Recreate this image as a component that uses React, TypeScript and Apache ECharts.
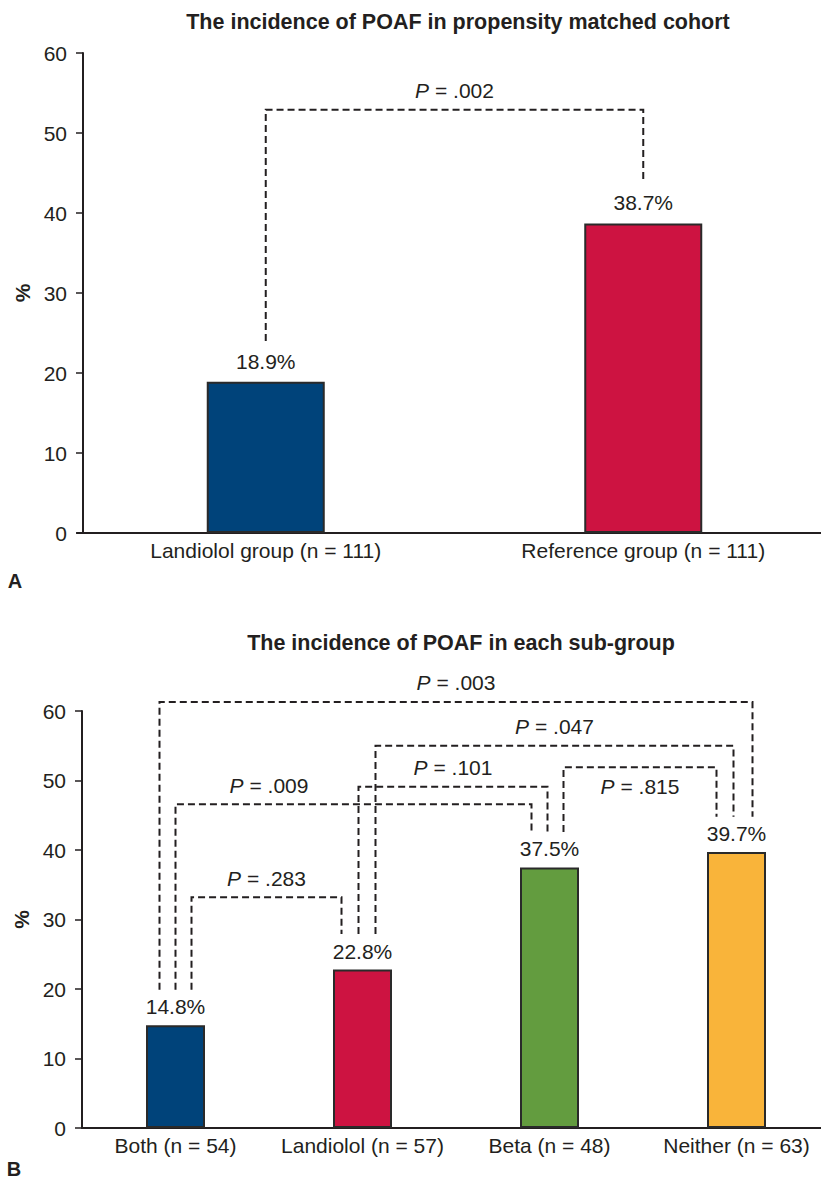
import React, { useEffect, useRef } from "react";
import * as echarts from "echarts";

// ---------- data ----------
const topCategories = ["Landiolol group (n = 111)", "Reference group (n = 111)"];
const topValues = [18.9, 38.7];
const topColors = ["#00437a", "#cd1341"];

const bottomCategories = ["Both (n = 54)", "Landiolol (n = 57)", "Beta (n = 48)", "Neither (n = 63)"];
const bottomValues = [14.8, 22.8, 37.5, 39.7];
const bottomColors = ["#00437a", "#cd1341", "#639c3f", "#f9b43a"];

const yMin = 0;
const yMax = 60;
const yInterval = 10;

// significance brackets: categories compared, bracket height (in %), p value
const topBrackets = [{ from: 0, to: 1, height: 52.9, p: ".002" }];
const bottomBrackets = [
  { from: 0, to: 3, height: 61.3, p: ".003" },
  { from: 1, to: 3, height: 55.0, p: ".047" },
  { from: 2, to: 3, height: 51.9, p: ".815" },
  { from: 1, to: 2, height: 49.1, p: ".101" },
  { from: 0, to: 2, height: 46.6, p: ".009" },
  { from: 0, to: 1, height: 33.2, p: ".283" },
];

// ---------- layout / style ----------
const FONT = "'Liberation Sans', Arial, Helvetica, sans-serif";
const INK = "#231f20";
const BRACKET_GAP = 5.1; // bracket leg ends this many % above bar
const topBracketLayout = [{ fromDx: 0, toDx: 0, below: false, labelBetween: null as null | number[] }];
const bottomBracketLayout = [
  { fromDx: -16, toDx: 16, below: false, labelBetween: null as null | number[] },
  { fromDx: 13, toDx: -3, below: false, labelBetween: null },
  { fromDx: 14, toDx: -20, below: true, labelBetween: null },
  { fromDx: -4, toDx: -2, below: false, labelBetween: null },
  { fromDx: 0, toDx: -18, below: false, labelBetween: [0, 1] },
  { fromDx: 16, toDx: -21, below: false, labelBetween: null },
];

function bracketSeries(
  brackets: typeof bottomBrackets,
  layout: typeof bottomBracketLayout,
  values: number[],
  axisIndex: number
) {
  return {
    type: "custom",
    coordinateSystem: "cartesian2d",
    xAxisIndex: axisIndex,
    yAxisIndex: axisIndex,
    clip: false,
    silent: true,
    z: 5,
    data: brackets.map((b) => [b.from, b.height]),
    renderItem: (params: any, api: any) => {
      const b = brackets[params.dataIndex];
      const L = layout[params.dataIndex];
      const x1 = api.coord([b.from, 0])[0] + L.fromDx;
      const x2 = api.coord([b.to, 0])[0] + L.toDx;
      const yTop = api.coord([b.from, b.height])[1];
      const y1 = api.coord([b.from, values[b.from] + BRACKET_GAP])[1];
      const y2 = api.coord([b.to, values[b.to] + BRACKET_GAP])[1];
      let lx = (x1 + x2) / 2;
      if (L.labelBetween) {
        lx = (api.coord([L.labelBetween[0], 0])[0] + api.coord([L.labelBetween[1], 0])[0]) / 2;
      }
      const ly = L.below ? yTop + 19 : yTop - 19;
      return {
        type: "group",
        children: [
          {
            type: "polyline",
            shape: { points: [[x1, y1], [x1, yTop], [x2, yTop], [x2, y2]] },
            style: { stroke: INK, lineWidth: 2, lineDash: [7, 4], fill: null },
          },
          {
            type: "text",
            x: lx,
            y: ly,
            style: {
              text: "{i|P} = " + b.p,
              rich: {
                i: { fontStyle: "italic", fontSize: 21, fontFamily: FONT, fill: INK },
              },
              fontSize: 21,
              fontFamily: FONT,
              fill: INK,
              align: "center",
              verticalAlign: "middle",
            },
          },
        ],
      };
    },
  };
}

function yAxisCfg(gridIndex: number, offset: number) {
  return {
    type: "value",
    gridIndex,
    min: yMin,
    max: yMax,
    interval: yInterval,
    offset,
    name: "%",
    nameLocation: "middle",
    nameRotate: 90,
    nameGap: 42,
    nameTextStyle: { fontSize: 21, fontWeight: "bold", fontFamily: FONT, color: INK },
    axisLine: { show: true, lineStyle: { color: INK, width: 2 } },
    axisTick: { show: true, length: 7, lineStyle: { color: INK, width: 1.5 } },
    axisLabel: { fontSize: 21, fontFamily: FONT, color: INK, margin: 16 },
    splitLine: { show: false },
  };
}

function xAxisCfg(gridIndex: number, data: string[]) {
  return {
    type: "category",
    gridIndex,
    data,
    axisLine: { show: true, lineStyle: { color: INK, width: 2 } },
    axisTick: { show: false },
    axisLabel: { fontSize: 21, fontFamily: FONT, color: INK, margin: 7, interval: 0 },
  };
}

function barSeries(values: number[], colors: string[], axisIndex: number, width: number, dist: number) {
  return {
    type: "bar",
    xAxisIndex: axisIndex,
    yAxisIndex: axisIndex,
    barWidth: width,
    data: values.map((v, i) => ({
      value: v,
      itemStyle: { color: colors[i], borderColor: "#2a2a2a", borderWidth: 2 },
    })),
    label: {
      show: true,
      position: "top",
      distance: dist,
      formatter: "{c}%",
      fontSize: 21,
      fontFamily: FONT,
      color: INK,
    },
  };
}

export default function App() {
  const ref = useRef<HTMLDivElement>(null);

  useEffect(() => {
    document.body.style.margin = "0";
    if (!ref.current) return;
    const chart = echarts.init(ref.current, null, { renderer: "svg" });
    chart.setOption({
      animation: false,
      backgroundColor: "#ffffff",
      grid: [
        { left: 77, top: 53, width: 755, height: 480, outerBoundsMode: "none", containLabel: false },
        { left: 82, top: 711, width: 748, height: 417, outerBoundsMode: "none", containLabel: false },
      ],
      xAxis: [xAxisCfg(0, topCategories), xAxisCfg(1, bottomCategories)],
      yAxis: [yAxisCfg(0, -6), yAxisCfg(1, 0)],
      graphic: [
        {
          type: "text",
          x: 458,
          y: 22,
          style: {
            text: "The incidence of POAF in propensity matched cohort",
            fontSize: 21.5,
            fontWeight: "bold",
            fontFamily: FONT,
            fill: INK,
            align: "center",
            verticalAlign: "middle",
          },
        },
        {
          type: "text",
          x: 461,
          y: 643,
          style: {
            text: "The incidence of POAF in each sub-group",
            fontSize: 21.5,
            fontWeight: "bold",
            fontFamily: FONT,
            fill: INK,
            align: "center",
            verticalAlign: "middle",
          },
        },
        {
          type: "text",
          x: 15,
          y: 581,
          style: { text: "A", fontSize: 20, fontWeight: "bold", fontFamily: FONT, fill: INK, align: "center", verticalAlign: "middle" },
        },
        {
          type: "text",
          x: 14,
          y: 1169,
          style: { text: "B", fontSize: 20, fontWeight: "bold", fontFamily: FONT, fill: INK, align: "center", verticalAlign: "middle" },
        },
      ],
      series: [
        barSeries(topValues, topColors, 0, 118, 10),
        barSeries(bottomValues, bottomColors, 1, 59, 8),
        bracketSeries(topBrackets as any, topBracketLayout as any, topValues, 0),
        bracketSeries(bottomBrackets, bottomBracketLayout, bottomValues, 1),
      ],
    });
    return () => chart.dispose();
  }, []);

  return <div ref={ref} style={{ width: 821, height: 1182 }} />;
}
